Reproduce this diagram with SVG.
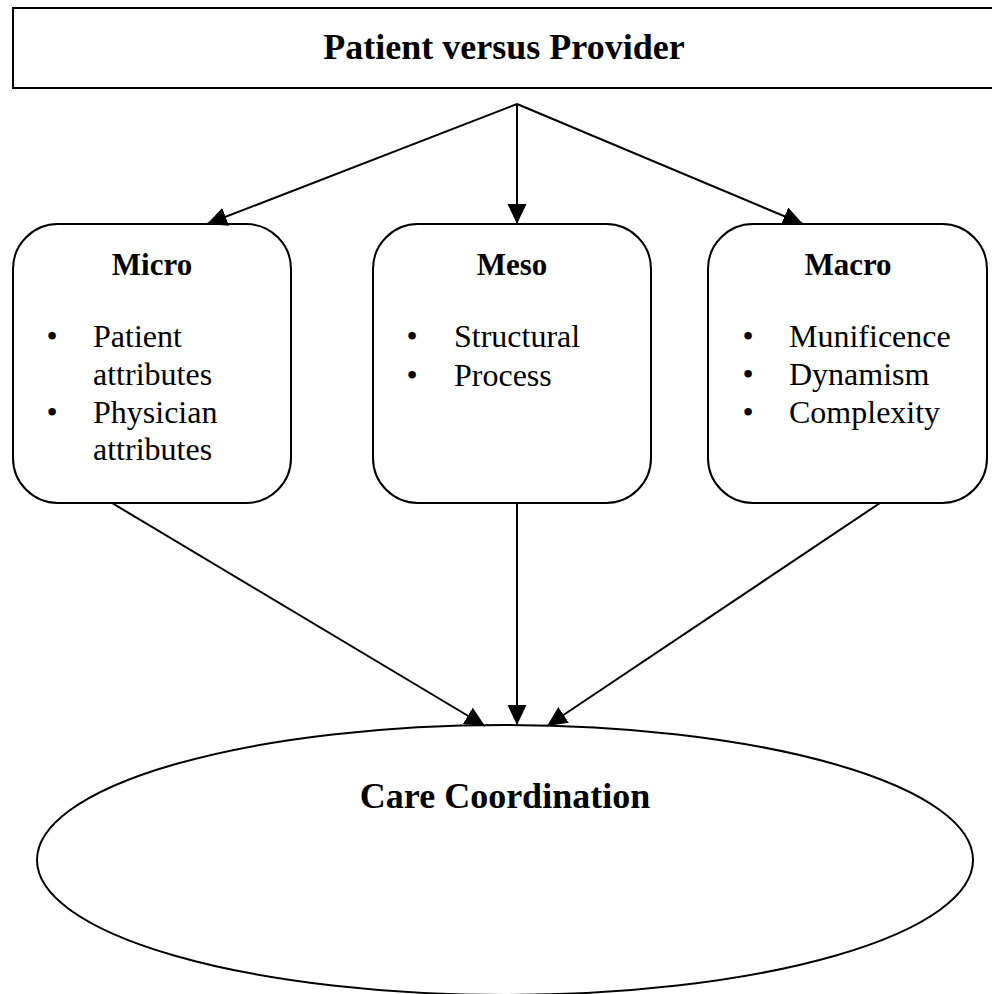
<svg xmlns="http://www.w3.org/2000/svg" width="992" height="994" viewBox="0 0 992 994">
<style>
.shape{fill:#fff;stroke:#000;stroke-width:2}
.title{font-family:"Liberation Serif","Times New Roman",serif;font-weight:bold;fill:#000}
.body{font-family:"Liberation Serif","Times New Roman",serif;font-size:32px;fill:#000}
.conn{stroke:#000;stroke-width:2;fill:none;marker-end:url(#arrow)}
</style>
<defs>
<marker id="arrow" markerUnits="userSpaceOnUse" markerWidth="22" markerHeight="20" refX="20" refY="9.5" orient="auto">
<path d="M0,0 L20,9.5 L0,19 z" fill="#000"/>
</marker>
</defs>
<rect width="992" height="994" fill="#fff"/>
<g id="patient-vs-provider">
<rect class="shape" x="13" y="8" width="995" height="80" stroke-width="2.5"/>
<text class="title" x="504" y="59" font-size="36" text-anchor="middle">Patient versus Provider</text>
</g>
<g id="micro">
<rect class="shape" x="13" y="224" width="278" height="279" rx="45" ry="45"/>
<text class="title" x="152" y="275" font-size="31" text-anchor="middle">Micro</text>
<text class="body" x="52" y="347" text-anchor="middle">•</text>
<text class="body" x="93" y="347">Patient</text>
<text class="body" x="93" y="385">attributes</text>
<text class="body" x="52" y="423" text-anchor="middle">•</text>
<text class="body" x="93" y="423">Physician</text>
<text class="body" x="93" y="460">attributes</text>
</g>
<g id="meso">
<rect class="shape" x="373" y="224" width="278" height="279" rx="45" ry="45"/>
<text class="title" x="512" y="275" font-size="31" text-anchor="middle">Meso</text>
<text class="body" x="412" y="347" text-anchor="middle">•</text>
<text class="body" x="454" y="347">Structural</text>
<text class="body" x="412" y="386" text-anchor="middle">•</text>
<text class="body" x="454" y="386">Process</text>
</g>
<g id="macro">
<rect class="shape" x="708" y="224" width="279" height="279" rx="45" ry="45"/>
<text class="title" x="848" y="275" font-size="31" text-anchor="middle">Macro</text>
<text class="body" x="748" y="347" text-anchor="middle">•</text>
<text class="body" x="789" y="347">Munificence</text>
<text class="body" x="748" y="385" text-anchor="middle">•</text>
<text class="body" x="789" y="385">Dynamism</text>
<text class="body" x="748" y="423" text-anchor="middle">•</text>
<text class="body" x="789" y="423">Complexity</text>
</g>
<g id="care-coordination">
<ellipse class="shape" cx="505" cy="860" rx="468" ry="135" stroke-width="1.8"/>
<text class="title" x="505" y="808" font-size="36" text-anchor="middle">Care Coordination</text>
</g>
<g id="connectors">
<line class="conn" x1="517" y1="104" x2="207" y2="224"/>
<line class="conn" x1="517" y1="104" x2="517" y2="224"/>
<line class="conn" x1="517" y1="104" x2="803" y2="224"/>
<line class="conn" x1="112" y1="503" x2="485" y2="726"/>
<line class="conn" x1="517" y1="503" x2="517" y2="725"/>
<line class="conn" x1="880" y1="503" x2="547" y2="726"/>
</g>
</svg>
